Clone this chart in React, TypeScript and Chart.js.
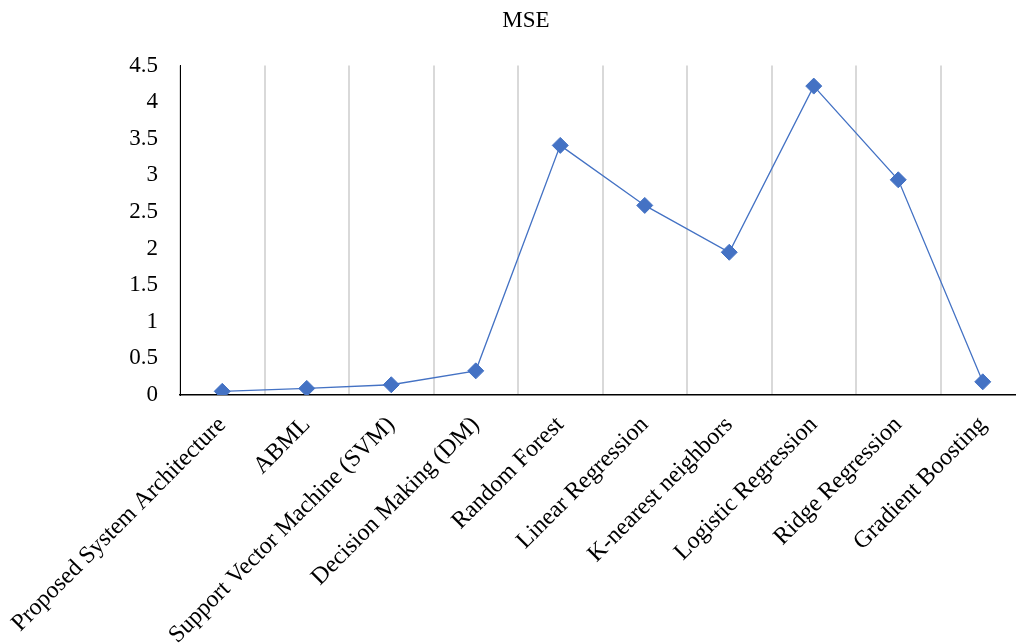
import React, { useEffect, useRef } from "react";
import { Chart, registerables } from "chart.js";

Chart.register(...registerables);

const chartTitle = "MSE";
const categories = [
  "Proposed System Architecture",
  "ABML",
  "Support Vector Machine (SVM)",
  "Decision Making (DM)",
  "Random Forest",
  "Linear Regression",
  "K-nearest neighbors",
  "Logistic Regression",
  "Ridge Regression",
  "Gradient Boosting",
];
const mseValues = [0.05, 0.09, 0.14, 0.33, 3.41, 2.59, 1.95, 4.22, 2.94, 0.18];
const yMin = 0;
const yMax = 4.5;
const yStep = 0.5;

const FONT = "'Liberation Serif', 'Times New Roman', serif";
const BLUE = "#4472C4";

export default function App() {
  const ref = useRef<HTMLCanvasElement | null>(null);

  useEffect(() => {
    if (!ref.current) return;
    const chart = new Chart(ref.current, {
      type: "line",
      data: {
        labels: categories,
        datasets: [
          {
            label: chartTitle,
            data: mseValues,
            borderColor: BLUE,
            backgroundColor: BLUE,
            borderWidth: 1.3,
            pointStyle: "rectRot",
            pointRadius: 8,
            pointBorderWidth: 1,
            pointBackgroundColor: BLUE,
            pointBorderColor: BLUE,
            tension: 0,
            fill: false,
            yAxisID: "y",
          },
        ],
      },
      options: {
        responsive: false,
        animation: false,
        devicePixelRatio: 1,
        layout: { padding: { left: 0, right: 0, top: 0, bottom: 0 } },
        plugins: {
          legend: { display: false },
          tooltip: { enabled: false },
          title: {
            display: true,
            text: chartTitle,
            color: "#000",
            font: { family: FONT, size: 23, weight: "normal" },
            padding: { top: 7, bottom: 31 },
          },
        },
        scales: {
          x: {
            type: "category",
            offset: true,
            grid: {
              display: true,
              offset: true,
              color: "#d9d9d9",
              lineWidth: 2,
              drawTicks: false,
            },
            border: { display: true, color: "#000", width: 1.5 },
            ticks: {
              color: "#000",
              font: { family: FONT, size: 24 },
              minRotation: 45,
              maxRotation: 45,
              autoSkip: false,
              padding: 16,
            },
            afterFit: (s: any) => {
              s.height = 249;
              s.paddingLeft = 0;
              s.paddingRight = 0;
            },
          },
          y: {
            type: "linear",
            position: "left",
            min: yMin,
            max: yMax,
            grid: { display: false, drawTicks: false },
            border: { display: true, color: "#000", width: 1 },
            ticks: {
              stepSize: yStep,
              color: "#000",
              font: { family: FONT, size: 23 },
              padding: 22,
              callback: (v: any) => String(Number(v)),
            },
            afterFit: (s: any) => {
              s.width = 180;
            },
          },
          yR: {
            type: "linear",
            position: "right",
            display: true,
            grid: { display: false, drawTicks: false },
            border: { display: false },
            ticks: { display: false },
            afterFit: (s: any) => {
              s.width = 27;
            },
          },
        },
      },
    });
    return () => chart.destroy();
  }, []);

  return (
    <div
      style={{
        position: "fixed",
        left: 0,
        top: 0,
        width: 1016,
        height: 644,
        overflow: "hidden",
        background: "#fff",
      }}
    >
      <canvas ref={ref} width={1052} height={644} style={{ display: "block" }} />
    </div>
  );
}
